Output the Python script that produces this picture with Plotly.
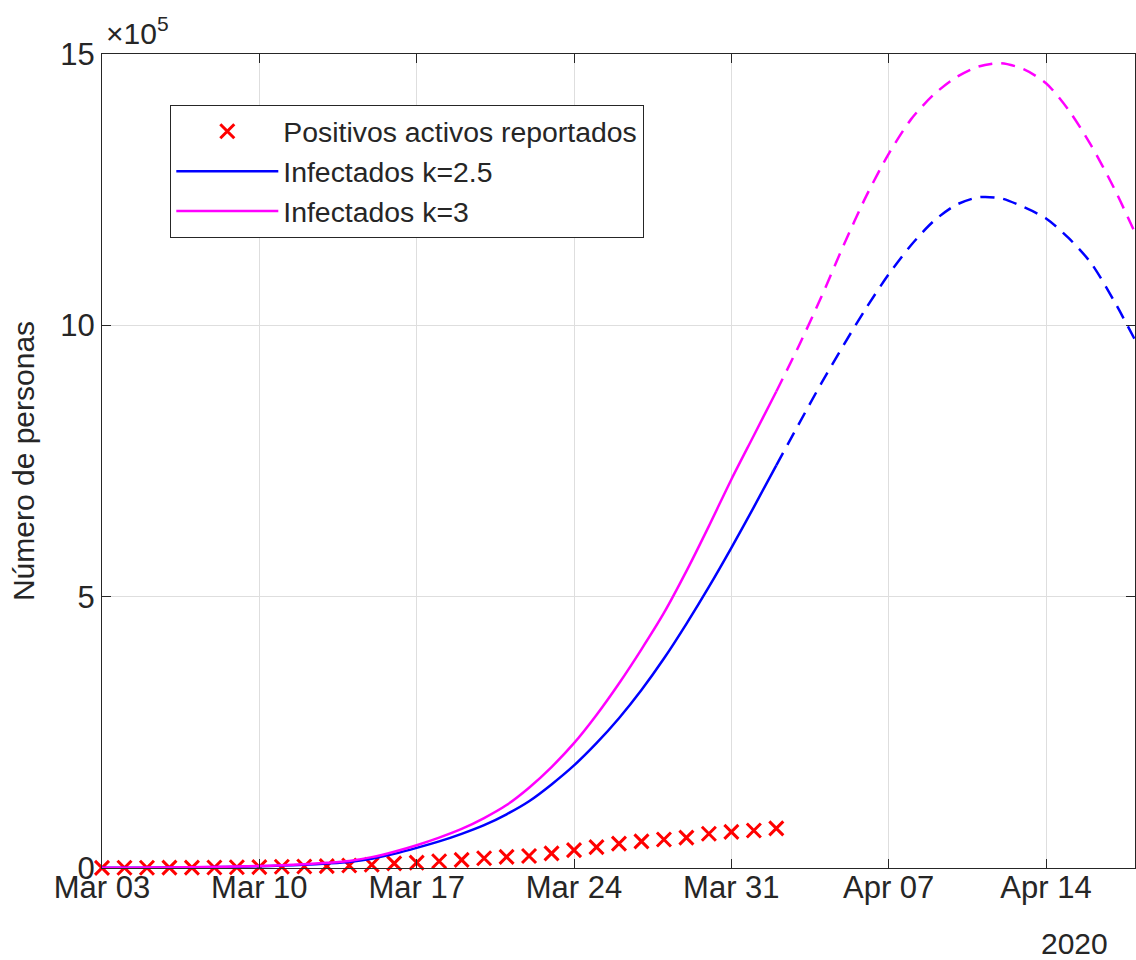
import pandas as pd
import plotly.graph_objects as go

# ---------------- data ----------------
start_date = "2020-03-03"
# reported active positives, Mar 03 .. Apr 02 (daily)
reported = [300, 400, 500, 600, 800, 1000, 1300, 1700, 2200, 2800, 3500,
            4500, 6000, 8500, 10000, 12500, 15000, 18000, 20500, 22000, 27000,
            33000, 38500, 45000, 49000, 52500, 56000, 63000, 66500, 69000, 73000]

# model, k=2.5, Mar 03 .. Apr 18 (daily)
infected_k25 = [250, 400, 600, 850, 1200, 1700, 2400, 3300, 4500, 6000,
                8200, 11000, 17000, 26000, 37000, 49000, 63000, 79000, 99000,
                123000, 154000, 189000, 230000, 276000, 328000, 386000, 450000,
                518000, 590000, 665000, 742000, 818000, 893000, 964000, 1032000,
                1094000, 1148000, 1192000, 1222000, 1236000, 1234000, 1218000,
                1197000, 1161000, 1115000, 1047000, 970000]

# model, k=3, Mar 03 .. Apr 18 (daily)
infected_k3 = [300, 500, 700, 1000, 1400, 2000, 2800, 3800, 5000, 7000,
               9500, 13000, 20000, 30000, 42000, 56000, 72000, 92000, 116000,
               148000, 186000, 230000, 282000, 340000, 403000, 470000, 547000,
               630000, 716000, 797000, 878000, 962000, 1052000, 1148000, 1238000,
               1316000, 1380000, 1425000, 1457000, 1477000, 1483000, 1472000,
               1446000, 1397000, 1332000, 1255000, 1167000]

n_observed = 31          # days with reported data / solid model part
y_tickvals = [0, 500000, 1000000, 1500000]
y_ticktext = ["0", "5", "10", "15"]

labels = ["Positivos activos reportados", "Infectados k=2.5", "Infectados k=3"]

# ---------------- figure ----------------
dates_all = pd.date_range(start_date, periods=len(infected_k3), freq="D")
dates_obs = dates_all[:n_observed]

FONT = "Liberation Sans, Arial, Helvetica, sans-serif"
AX = "#262626"
GRID = "#dedede"
BLUE = "#0000ff"
MAG = "#ff00ff"
RED = "#ff0000"
LW = 2.5
DASH = "14px,9px"

fig = go.Figure()

fig.add_trace(go.Scatter(
    x=dates_obs, y=reported, mode="markers", name=labels[0],
    marker=dict(symbol="x-thin", size=14, color=RED,
                line=dict(color=RED, width=3)),
    cliponaxis=False))

fig.add_trace(go.Scatter(
    x=dates_obs, y=infected_k25[:n_observed], mode="lines", name=labels[1],
    line=dict(color=BLUE, width=LW, shape="spline", smoothing=0.8)))
fig.add_trace(go.Scatter(
    x=dates_all[n_observed - 1:], y=infected_k25[n_observed - 1:], mode="lines",
    showlegend=False,
    line=dict(color=BLUE, width=LW, dash=DASH, shape="spline", smoothing=0.8)))

fig.add_trace(go.Scatter(
    x=dates_obs, y=infected_k3[:n_observed], mode="lines", name=labels[2],
    line=dict(color=MAG, width=LW, shape="spline", smoothing=0.8)))
fig.add_trace(go.Scatter(
    x=dates_all[n_observed - 1:], y=infected_k3[n_observed - 1:], mode="lines",
    showlegend=False,
    line=dict(color=MAG, width=LW, dash=DASH, shape="spline", smoothing=0.8)))

L, R, T, B = 102, 1, 54, 92
W, H = 1136, 960
pw = W - L - R

fig.update_layout(
    width=W, height=H,
    margin=dict(l=L, r=R, t=T, b=B, autoexpand=False),
    paper_bgcolor="white", plot_bgcolor="white",
    font=dict(family=FONT, size=31, color=AX),
    showlegend=True,
    legend=dict(
        x=(170 - L) / pw, y=(H - B - 105) / (H - T - B),
        xanchor="left", yanchor="top",
        bgcolor="white", bordercolor=AX, borderwidth=1.3,
        font=dict(family=FONT, size=28.4, color=AX),
        itemwidth=102, tracegroupgap=0,
    ),
    xaxis=dict(
        type="date",
        range=["2020-03-03", "2020-04-17 23:00"],
        tick0="2020-03-03", dtick=7 * 24 * 3600 * 1000,
        tickformat="%b %d",
        ticks="inside", ticklen=9, tickwidth=1.2, tickcolor=AX,
        showline=True, linecolor=AX, linewidth=1.3, mirror="ticks",
        showgrid=True, gridcolor=GRID, gridwidth=1,
        zeroline=False, ticklabelstandoff=-8,
        tickfont=dict(family=FONT, size=31, color=AX),
    ),
    yaxis=dict(
        range=[0, 1500000],
        tickvals=y_tickvals, ticktext=y_ticktext,
        ticks="inside", ticklen=9, tickwidth=1.2, tickcolor=AX,
        showline=True, linecolor=AX, linewidth=1.3, mirror="ticks",
        showgrid=True, gridcolor=GRID, gridwidth=1,
        zeroline=False,
        tickfont=dict(family=FONT, size=31, color=AX),
        title=dict(text="Número de personas", standoff=16,
                   font=dict(family=FONT, size=30, color=AX)),
    ),
)

# exponent marker and year label
fig.add_annotation(
    xref="paper", yref="paper", x=0.0, y=1.0, xanchor="left", yanchor="bottom",
    xshift=2, yshift=2,
    text="×10<sup>5</sup>", showarrow=False,
    font=dict(family=FONT, size=30, color=AX))
fig.add_annotation(
    xref="paper", yref="paper", x=(1110 - L) / pw, y=0, xanchor="right",
    yanchor="top", yshift=-57,
    text="2020", showarrow=False,
    font=dict(family=FONT, size=30, color=AX))

fig.write_html("out.html")
